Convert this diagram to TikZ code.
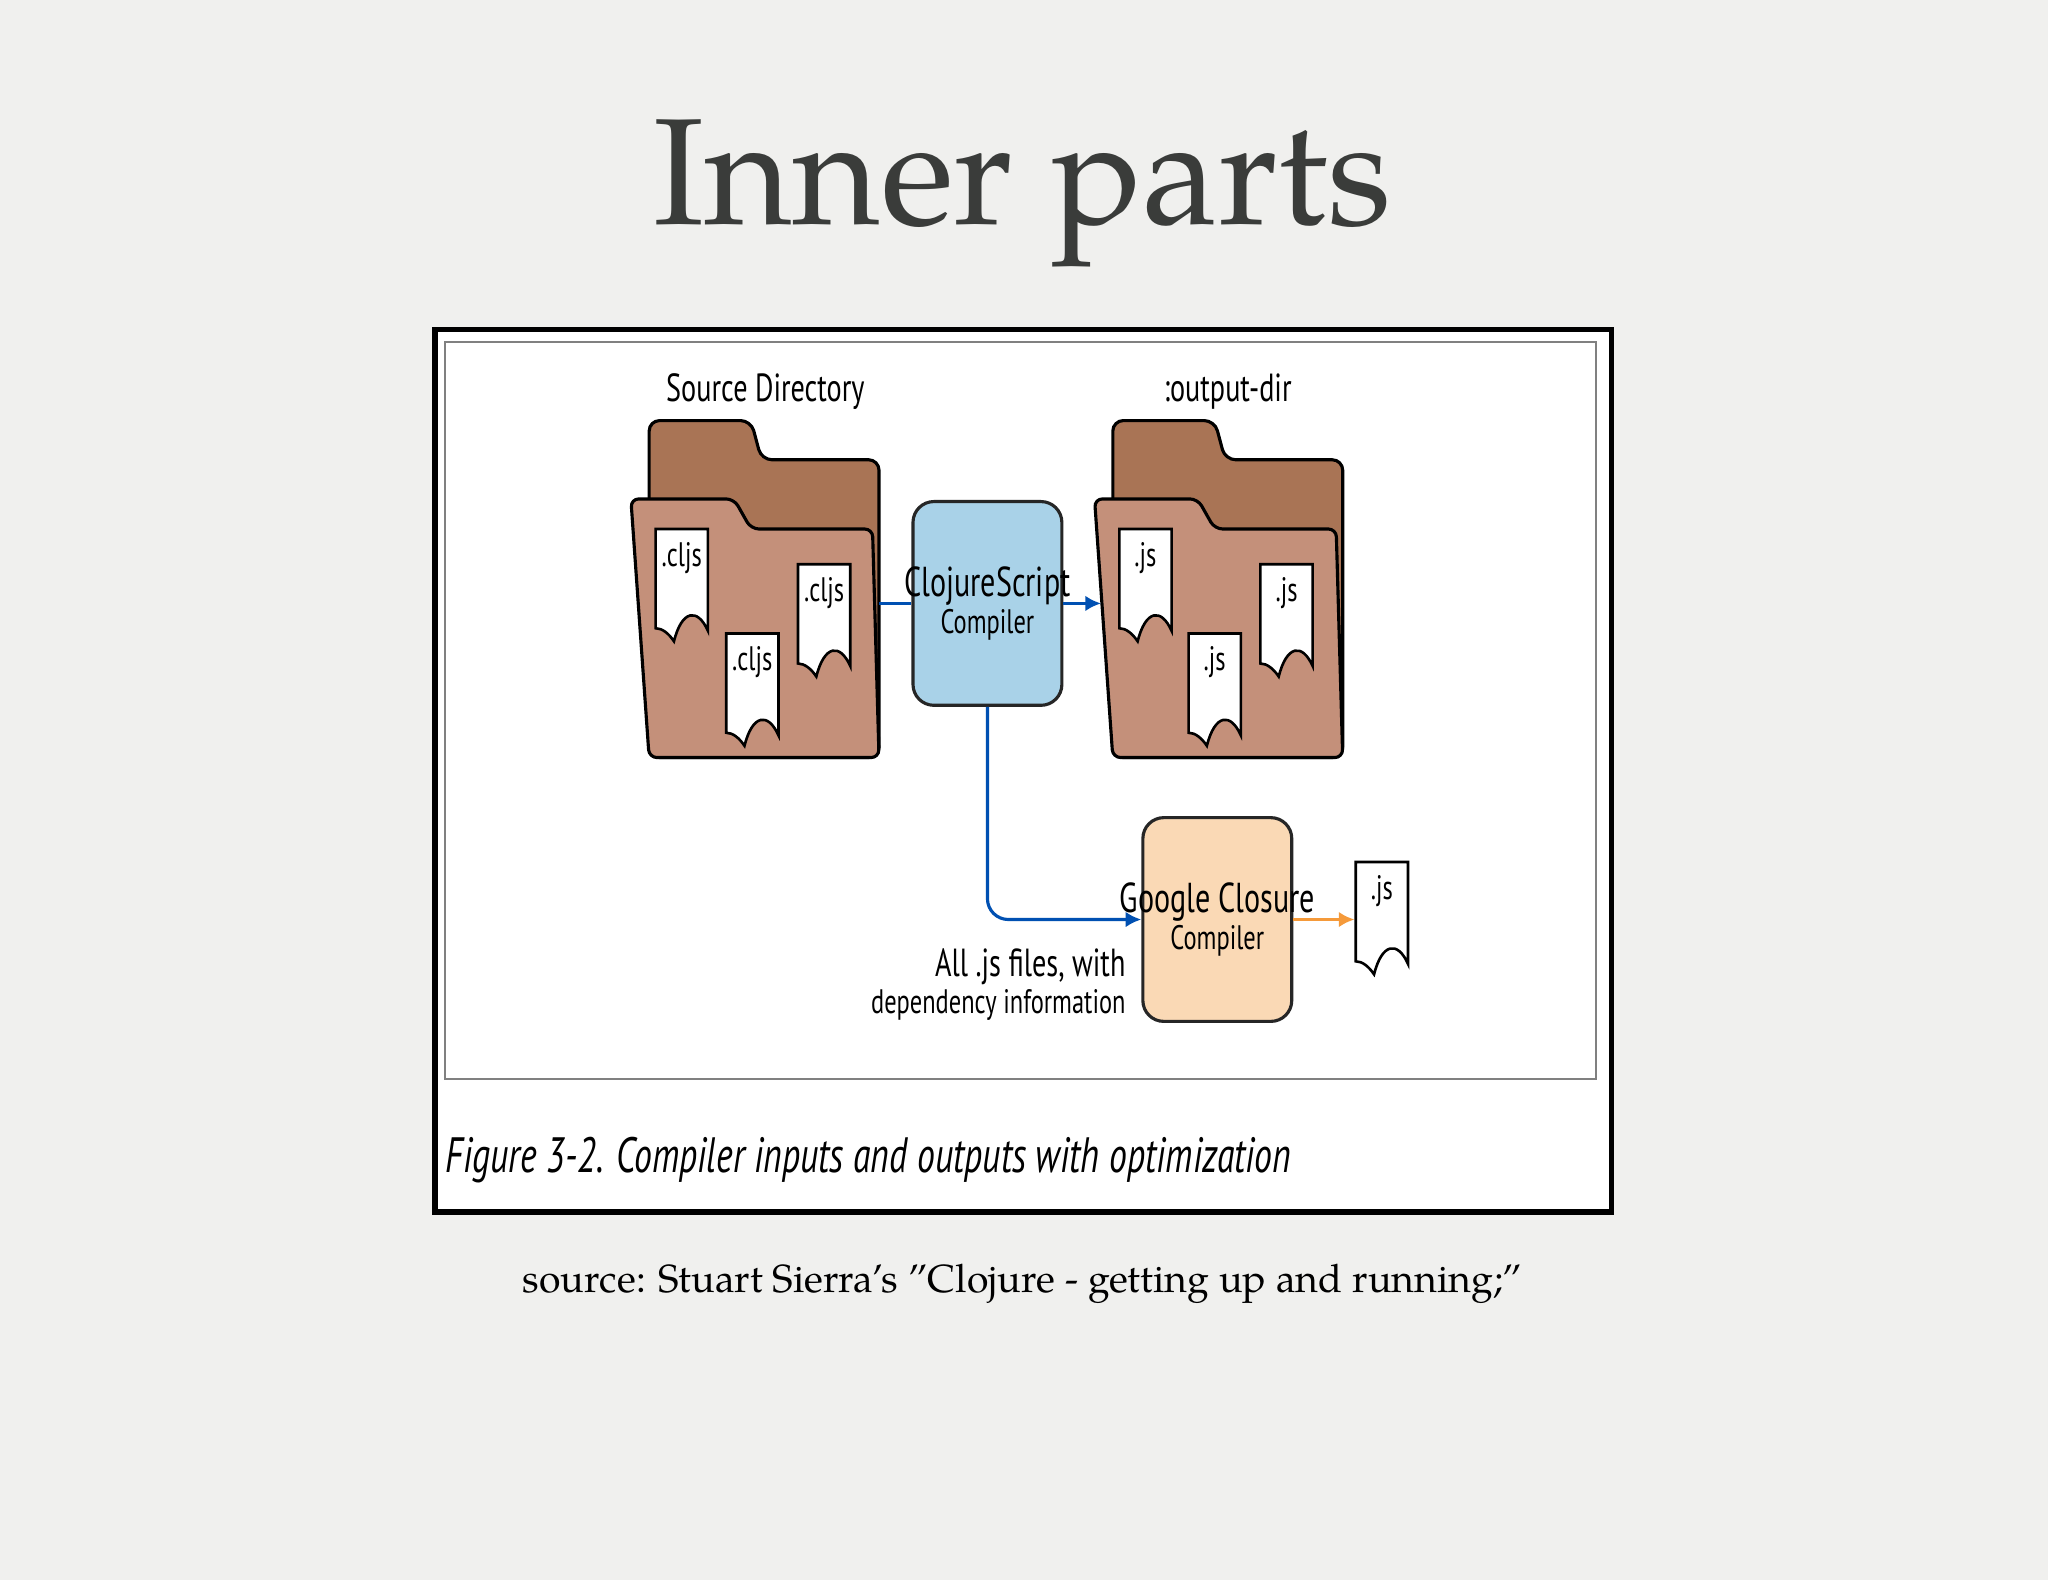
\documentclass[tikz,border=0pt]{standalone}
\usepackage{fontspec}
\setmainfont{TeX Gyre Pagella}[]
\newfontfamily\cond{PT Sans}
\begin{document}
\begin{tikzpicture}[x=0.5pt,y=-0.5pt,
  lbl/.style={font=\cond\fontsize{13}{14}\selectfont,xscale=0.72,inner sep=0},
  box/.style={draw=black!85,line width=1.2pt,rounded corners=8pt},
  blu/.style={draw=blue!55!cyan!70!black,line width=1.2pt,-{Latex[length=6pt,width=6pt]}},
  pics/doc/.style={code={
    \draw[fill=white,line width=1pt] (0,0)--(40,0)--(40,78) .. controls (32,60) and (20,62) .. (14,86) .. controls (10,80) and (5,76) .. (0,76) -- cycle;
    \node[lbl] at (20,22) {#1};}}]
\usetikzlibrary{arrows.meta}
\fill[color={rgb,255:red,240;green,240;blue,238}] (0,0) rectangle (1568,1210);
\useasboundingbox (0,0) rectangle (1568,1210);
\node[text={rgb,255:red,58;green,60;blue,58},font=\fontsize{58}{60}\selectfont] (title) at (783,148) {Inner parts};
\draw[line width=2pt,fill=white] (333,252) rectangle (1234,928);
\draw[gray,line width=0.8pt] (341,262) rectangle (1222,826);
% folders
\foreach \dx/\nm in {0/L,355/R}{
\begin{scope}[xshift=\dx*0.5pt]
\draw[line width=1.2pt,fill={rgb,255:red,169;green,116;blue,85},rounded corners=4pt] (497,580)--(497,322)--(575,322)--(583,352)--(673,352)--(673,580)--cycle;
\draw[line width=1.2pt,fill={rgb,255:red,196;green,144;blue,122},rounded corners=3pt] (483,382)--(562,382)--(575,405)--(668,405)--(673,580)--(497,580)--cycle;
\end{scope}}
\coordinate (fl) at (673,462); \coordinate (fr) at (843,462);
\pic at (502,405) {doc=.cljs}; \pic at (611,432) {doc=.cljs}; \pic at (556,485) {doc=.cljs};
\pic at (857,405) {doc=.js}; \pic at (965,432) {doc=.js}; \pic at (910,485) {doc=.js};
\pic at (1038,660) {doc=.js};
\node[lbl] (sd) at (586,300) {\fontsize{15}{16}\selectfont Source Directory};
\node[lbl] (od) at (940,300) {\fontsize{15}{16}\selectfont :output-dir};
\node[box,fill={rgb,255:red,169;green,210;blue,232},minimum width=57pt,minimum height=78pt] (cs) at (756,462) {};
\node[lbl,align=center] at (cs) {\fontsize{16}{21}\selectfont ClojureScript\\Compiler};
\node[box,fill={rgb,255:red,250;green,217;blue,181},minimum width=57pt,minimum height=78pt] (gc) at (932,704) {};
\node[lbl,align=center] at (gc) {\fontsize{16}{21}\selectfont Google Closure\\Compiler};
\coordinate (js) at (1037,704);
\draw[blue!55!cyan!70!black,line width=1.2pt] (fl)--(cs.west);
\draw[blu] (cs.east)--(fr);
\draw[blu,rounded corners=8pt] (cs.south)--(756,704)--(gc.west);
\draw[draw={rgb,255:red,245;green,154;blue,58},line width=1.2pt,-{Latex[length=6pt,width=6pt]}] (gc.east)--(js);
\node[lbl,anchor=east,align=right] (al) at (862,754) {\fontsize{15}{21}\selectfont All .js files, with\\dependency information};
\node[font=\cond\itshape\fontsize{19}{20}\selectfont,xscale=0.72,anchor=west,inner sep=0] (cap) at (341,888) {Figure 3-2. Compiler inputs and outputs with optimization};
\node[font=\fontsize{15}{16}\selectfont] (src) at (783,983) {source: Stuart Sierra's "Clojure - getting up and running;"};
\end{tikzpicture}
\end{document}
